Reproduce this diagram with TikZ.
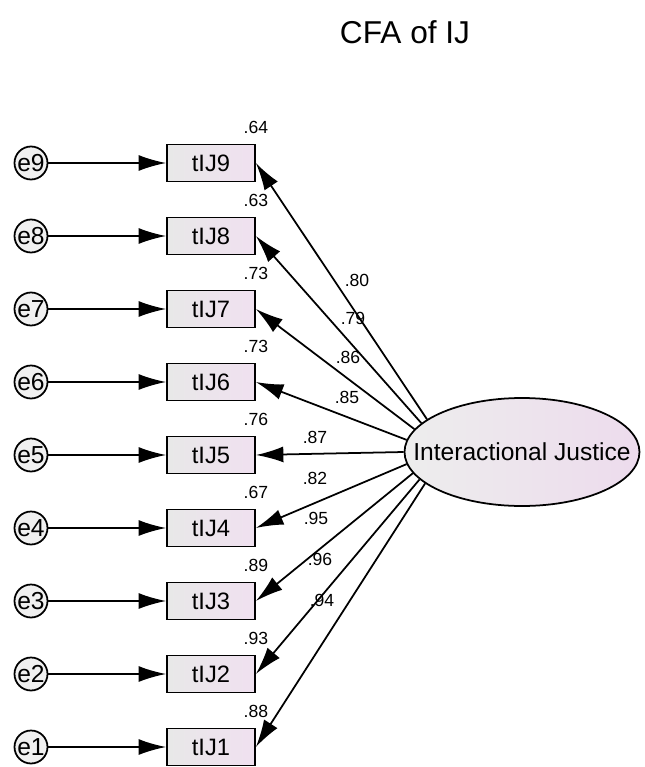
\documentclass[tikz,border=0pt]{standalone}
\usepackage{fontspec}
\setmainfont{Liberation Sans}
\usetikzlibrary{arrows.meta}
\usetikzlibrary{shapes.geometric}

\begin{document}
\begin{tikzpicture}[%%
  x=0.02cm,y=-0.02cm,
  arrowStyle/.style={-{Latex[length=5.5mm,width=3.2mm]},line width=1pt},%%
  errorStyle/.style={draw,circle,line width=1pt,fill=gray!12,minimum size=0.66cm,inner sep=0pt,font=\fontsize{14}{14}\selectfont},%%
  boxStyle/.style={draw,rectangle,line width=1pt,left color=gray!18,right color=violet!12,minimum width=1.76cm,minimum height=0.74cm,inner sep=0pt,font=\fontsize{13.5}{14}\selectfont},%%
  latentStyle/.style={draw,ellipse,line width=1pt,left color=gray!14,right color=violet!14,minimum width=4.7cm,minimum height=2.16cm,inner sep=0pt},%%
  numStyle/.style={font=\fontsize{10}{10}\selectfont,inner sep=0pt}
]
\useasboundingbox (0,0) rectangle (645,767);
%%
%% The title.
\node (title) at (405,32) {\fontsize{18}{19}\selectfont CFA of IJ};
%%
%% The latent factor.
\node[latentStyle] (IJ) at (522,452) {};
\node[font=\fontsize{14}{15}\selectfont] (IJtext) at (IJ.center) {Interactional Justice};
%%
%% The indicators with their errors, squared correlations and loadings.
\foreach \k/\rsq/\load/\ang/\lx/\ly in {%%
  9/.64/.80/161/357/280,
  8/.63/.79/164/353/318,
  7/.73/.86/168/348/357,
  6/.73/.85/174/347/397,
  5/.76/.87/180/315/437,
  4/.67/.82/186/315/478,
  3/.89/.95/191/316/518,
  2/.93/.96/195/320/559,
  1/.88/.94/198/322/600}{%%
  \pgfmathsetmacro{\rowy}{163+(9-\k)*73}
  \node[errorStyle] (e\k) at (31,\rowy) {e\k};
  \node[boxStyle] (tIJ\k) at (211,\rowy) {tIJ\k};
  \node[numStyle,anchor=south] (r\k) at ([yshift=0.2cm]tIJ\k.north east) {\rsq};
  \draw[arrowStyle] (e\k) -- (tIJ\k);
  \draw[arrowStyle] (IJ.\ang) -- (tIJ\k.east);
  \node[numStyle] (l\k) at (\lx,\ly) {\load};
}
\end{tikzpicture}
\end{document}
